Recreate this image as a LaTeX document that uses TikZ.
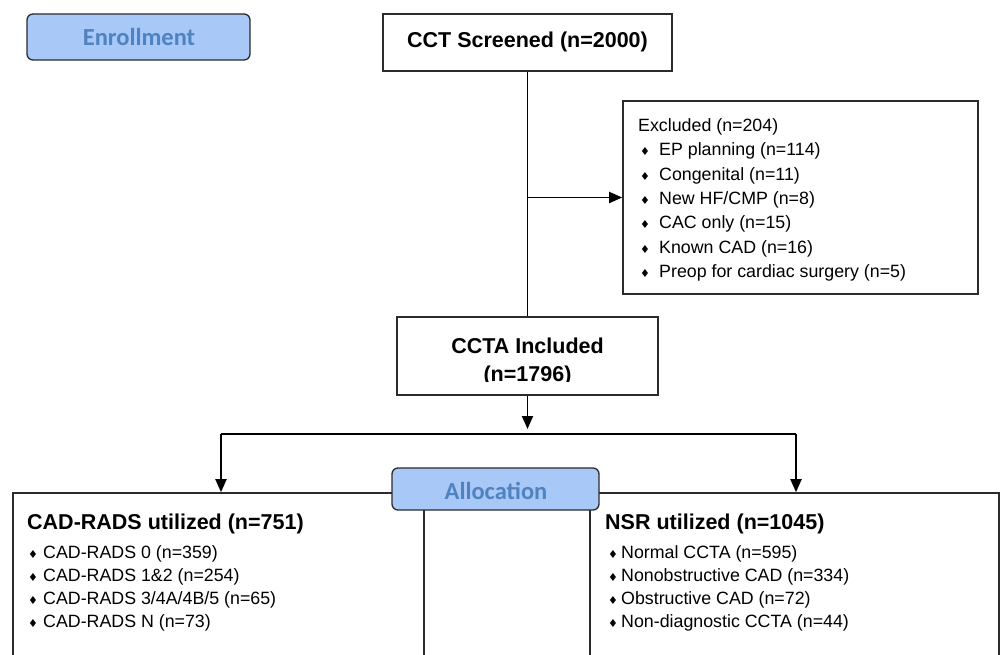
\documentclass[tikz,border=0pt]{standalone}
\usepackage{fontspec}
\setmainfont{Liberation Sans}
\newfontfamily\calfont{Carlito}
\newfontfamily\djfont{DejaVu Sans}
\usetikzlibrary{arrows.meta}
\definecolor{phasefill}{HTML}{A8C8F8}
\definecolor{phasetext}{HTML}{4F82C0}
\definecolor{edgecol}{HTML}{2B2B2B}
\newcommand{\dia}{{\djfont\fontsize{11}{11}\selectfont ♦}}
\tikzset{
  box/.style={draw=edgecol, line width=1.6pt, fill=white, inner sep=0pt},
  phase/.style={draw=edgecol, line width=1.3pt, fill=phasefill, rounded corners=6pt,
    text=phasetext, font=\calfont\bfseries\fontsize{24.5}{28}\selectfont, inner sep=0pt},
  conn/.style={line width=1.9pt, black},
  arr/.style={conn, -{Triangle[length=13pt,width=11pt]}},
  ttl/.style={font=\bfseries\fontsize{21.5}{29}\selectfont, inner sep=0pt},
  item/.style={font=\fontsize{17.8}{21}\selectfont, anchor=base west, inner sep=0pt},
}
\begin{document}
\begin{tikzpicture}[x=1pt,y=-1pt]
\useasboundingbox (0,0) rectangle (1002,655);
\fill[white] (0,0) rectangle (1002,655);
\clip (0,0) rectangle (1002,655);

% boxes
\node[phase, minimum width=223pt, minimum height=46pt] (enroll) at (138.5,37) {};
\node[text=phasetext, font=\calfont\bfseries\fontsize{24.5}{28}\selectfont, anchor=base, inner sep=0pt] (enrolltext) at (139,46) {Enrollment};
\node[box, minimum width=289pt, minimum height=57pt] (screen) at (527.5,42.5) {};
\node[ttl, anchor=base] (screentext) at (527.5,48) {CCT Screened (n=2000)};
\node[box, minimum width=355pt, minimum height=193pt] (excl) at (800.5,197.5) {};
\node[box, minimum width=261pt, minimum height=78pt] (incl) at (527.5,356) {};
\node[ttl, anchor=base] (incltext1) at (527.5,353) {CCTA Included};
\begin{scope}
  \clip (397,317) rectangle (658,381.5);
  \node[ttl, anchor=base] (incltext2) at (527.5,381) {(n=1796)};
\end{scope}
\node[box, minimum width=411pt, minimum height=207pt] (left) at (218.5,596.5) {};
\node[box, minimum width=409pt, minimum height=207pt] (right) at (794.5,596.5) {};
\node[phase, minimum width=207pt, minimum height=42pt] (alloc) at (495.5,489) {};
\node[text=phasetext, font=\calfont\bfseries\fontsize{24.5}{28}\selectfont, anchor=base, inner sep=0pt] (alloctext) at (496,499) {Allocation};

% excluded list
\node[item] (ex0) at (638,131.5) {Excluded (n=204)};
\node[item] (ex1) at (640,156) {\makebox[19pt][l]{\dia}EP planning (n=114)};
\node[item] (ex2) at (640,180.5) {\makebox[19pt][l]{\dia}Congenital (n=11)};
\node[item] (ex3) at (640,204.5) {\makebox[19pt][l]{\dia}New HF/CMP (n=8)};
\node[item] (ex4) at (640,229) {\makebox[19pt][l]{\dia}CAC only (n=15)};
\node[item] (ex5) at (640,253.5) {\makebox[19pt][l]{\dia}Known CAD (n=16)};
\node[item] (ex6) at (640,277.5) {\makebox[19pt][l]{\dia}Preop for cardiac surgery (n=5)};

% left list
\node[ttl, anchor=base west] (lt) at (27,529) {CAD-RADS utilized (n=751)};
\node[item] (l1) at (28,558.5) {\makebox[15pt][l]{\dia}CAD-RADS 0 (n=359)};
\node[item] (l2) at (28,581.5) {\makebox[15pt][l]{\dia}CAD-RADS 1\&2 (n=254)};
\node[item] (l3) at (28,604.5) {\makebox[15pt][l]{\dia}CAD-RADS 3/4A/4B/5 (n=65)};
\node[item] (l4) at (28,627.5) {\makebox[15pt][l]{\dia}CAD-RADS N (n=73)};

% right list
\node[ttl, anchor=base west] (rt) at (605,529) {NSR utilized (n=1045)};
\node[item] (r1) at (608,558.5) {\makebox[13pt][l]{\dia}Normal CCTA (n=595)};
\node[item] (r2) at (608,581.5) {\makebox[13pt][l]{\dia}Nonobstructive CAD (n=334)};
\node[item] (r3) at (608,604.5) {\makebox[13pt][l]{\dia}Obstructive CAD (n=72)};
\node[item] (r4) at (608,627.5) {\makebox[13pt][l]{\dia}Non-diagnostic CCTA (n=44)};

% connectors
\coordinate (split) at (527.5,429);
\coordinate (hl) at (221,434);
\coordinate (hr) at (796,434);
\draw[conn] (screen.south) -- (incl.north);
\draw[arr] (excl.west -| screen.south) -- (excl.west);
\draw[arr] (incl.south) -- (split);
\draw[conn] (hl) -- (hr);
\draw[arr] (hl) -- (hl |- left.north);
\draw[arr] (hr) -- (hr |- right.north);
\end{tikzpicture}
\end{document}
